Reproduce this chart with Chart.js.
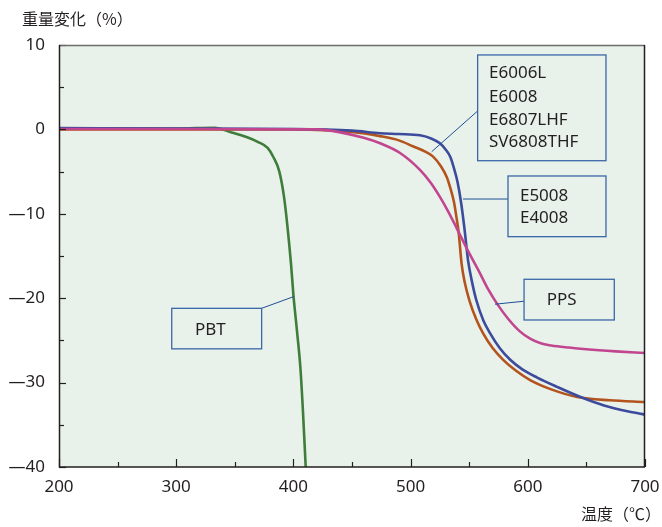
<!DOCTYPE html>
<html><head><meta charset="utf-8">
<script src="https://cdn.jsdelivr.net/npm/chart.js@4/dist/chart.umd.min.js"></script>
<style>html,body{margin:0;padding:0;background:#fff}#wrap{width:662px;height:527px}</style>
</head><body><div id="wrap"><canvas id="c" width="662" height="527"></canvas></div>
<script>
// ---- data ----
const xTicks = [200, 300, 400, 500, 600, 700];
const yTicks = [10, 0, -10, -20, -30, -40];

const blueT = [200, 300, 400, 450, 474, 490, 508, 518, 525, 530, 534, 537, 540, 543, 546, 549, 552, 556, 562, 568, 576, 585, 595, 608, 625, 645, 665, 685, 700];
const blueV = [0.15, 0.1, 0.05, -0.15, -0.45, -0.55, -0.7, -1.1, -1.65, -2.4, -3.3, -4.6, -6.2, -8.6, -11.8, -15.5, -17.8, -20.2, -22.6, -24.2, -25.9, -27.3, -28.4, -29.4, -30.5, -31.7, -32.7, -33.4, -33.8];

const orangeT = [200, 300, 400, 450, 474, 490, 502, 512, 519, 526, 531, 534, 537, 539, 541, 543.5, 546, 550, 556, 562, 570, 579, 590, 602, 620, 642, 670, 700];
const orangeV = [0, 0, 0, -0.3, -0.8, -1.3, -2.0, -2.6, -3.2, -4.4, -5.7, -7.0, -8.6, -10.3, -12.2, -15.9, -18.0, -20.2, -22.5, -24.2, -25.9, -27.3, -28.6, -29.7, -30.8, -31.7, -32.1, -32.3];

const pinkT = [200, 300, 420, 440, 460, 474, 491, 508, 517, 525, 532, 539, 549, 559, 566, 574, 583, 593, 602, 611, 620, 635, 650, 675, 700];
const pinkV = [0.05, 0.05, 0, -0.35, -1.0, -1.65, -2.8, -4.8, -6.3, -8.0, -9.7, -11.6, -14.4, -17.0, -18.9, -20.7, -22.4, -23.9, -24.8, -25.35, -25.6, -25.85, -26.05, -26.3, -26.5];

const greenT = [200, 300, 333, 346, 360, 370, 378, 383, 388, 392, 395, 398, 400, 403, 406, 408, 410.5];
const greenV = [0.1, 0.1, 0.2, -0.3, -0.9, -1.5, -2.2, -3.3, -5.0, -8.0, -11.6, -16, -19.6, -23.8, -28.3, -33, -40];

const labelsBox1 = ['E6006L', 'E6008', 'E6807LHF', 'SV6808THF'];
const labelsBox2 = ['E5008', 'E4008'];
const labelsBox3 = ['PPS'];
const labelsBox4 = ['PBT'];

const yTitle = '重量変化（%）';
const xTitle = '温度（℃）';

// annotation placement (data coordinates)
const notes = [
  {lines: labelsBox1, box: [557.2, 8.82, 666.7, -3.71], tx: 566.9, ty: [6.68, 3.84, 1.11, -1.49], lead: [557.2, 2.18, 518.0, -2.64]},
  {lines: labelsBox2, box: [583.1, -5.52, 666.7, -12.71], tx: 593.3, ty: [-7.89, -10.5], lead: [583.1, -8.25, 544.7, -8.25]},
  {lines: labelsBox3, box: [596.8, -17.76, 673.8, -22.58], tx: 616.1, ty: [-20.21], lead: [596.8, -20.36, 572.0, -20.71]},
  {lines: labelsBox4, box: [296.2, -21.2, 372.9, -26.0], tx: 316.0, ty: [-23.77], lead: [372.9, -21.2, 400.5, -19.8]}
];

const TXT = '#231f20';
const zip = (t, v) => t.map((x, i) => ({x: x, y: v[i]}));

const frame = {
  id: 'frame',
  beforeDraw(chart) {
    const {ctx, chartArea: a} = chart;
    ctx.save();
    ctx.fillStyle = '#e8f2ea';
    ctx.fillRect(a.left, a.top, a.right - a.left, a.bottom - a.top);
    ctx.restore();
  },
  afterDatasetsDraw(chart) {
    const {ctx, chartArea: a, scales} = chart;
    const xs = scales.x, ys = scales.y;
    ctx.save();
    // inward ticks
    ctx.strokeStyle = TXT; ctx.lineWidth = 1.2;
    xs.ticks.forEach(t => {
      const px = Math.round(xs.getPixelForValue(t.value)) + 0.5;
      const len = (t.value % 100 === 0) ? 8 : 5;
      ctx.beginPath(); ctx.moveTo(px, a.bottom); ctx.lineTo(px, a.bottom - len); ctx.stroke();
    });
    ys.ticks.forEach(t => {
      const py = Math.round(ys.getPixelForValue(t.value)) + 0.5;
      const len = (t.value % 10 === 0) ? 7 : 5;
      ctx.beginPath(); ctx.moveTo(a.left, py); ctx.lineTo(a.left + len, py); ctx.stroke();
    });
    // frame
    ctx.lineWidth = 1.5;
    ctx.strokeStyle = '#6d6d6d';
    ctx.beginPath(); ctx.moveTo(a.left, a.top + 0.5); ctx.lineTo(a.right, a.top + 0.5); ctx.stroke();
    ctx.strokeStyle = TXT;
    ctx.beginPath(); ctx.moveTo(a.right - 0.5, a.top); ctx.lineTo(a.right - 0.5, a.bottom); ctx.stroke();
    ctx.beginPath(); ctx.moveTo(a.left + 0.5, a.top); ctx.lineTo(a.left + 0.5, a.bottom); ctx.lineTo(a.right, a.bottom); ctx.stroke();

    // annotations
    notes.forEach(n => {
      const X = v => xs.getPixelForValue(v), Y = v => ys.getPixelForValue(v);
      ctx.strokeStyle = '#1f4f94'; ctx.lineWidth = 1;
      ctx.beginPath(); ctx.moveTo(X(n.lead[0]), Y(n.lead[1])); ctx.lineTo(X(n.lead[2]), Y(n.lead[3])); ctx.stroke();
      const x1 = X(n.box[0]), y1 = Y(n.box[1]), x2 = X(n.box[2]), y2 = Y(n.box[3]);
      ctx.fillStyle = '#e8f2ea';
      ctx.fillRect(x1, y1, x2 - x1, y2 - y1);
      ctx.strokeStyle = '#3a67a8'; ctx.lineWidth = 1.3;
      ctx.strokeRect(x1, y1, x2 - x1, y2 - y1);
      ctx.fillStyle = TXT; ctx.font = '17px "Noto Sans", sans-serif';
      ctx.textAlign = 'left'; ctx.textBaseline = 'middle';
      n.lines.forEach((s, i) => ctx.fillText(s, X(n.tx), Y(n.ty[i])));
    });

    // titles
    ctx.fillStyle = TXT;
    ctx.font = '16px "Noto Sans CJK JP", sans-serif';
    ctx.textBaseline = 'middle';
    ctx.textAlign = 'left';
    ctx.fillText(yTitle, 22, 19);
    ctx.textAlign = 'right';
    ctx.fillText(xTitle, 661, 514);
    ctx.restore();
  }
};

const ds = (label, t, v, color) => ({
  label: label, data: zip(t, v), borderColor: color, borderWidth: 2.6,
  pointRadius: 0, fill: false, cubicInterpolationMode: 'monotone'
});

new Chart(document.getElementById('c'), {
  type: 'line',
  data: {datasets: [
    ds('PPS', pinkT, pinkV, '#c2468f'),
    ds('E6006L', blueT, blueV, '#3d4b9c'),
    ds('E5008', orangeT, orangeV, '#b3541f'),
    ds('PBT', greenT, greenV, '#3f7d3a')
  ]},
  options: {
    responsive: false, animation: false, devicePixelRatio: 1,
    layout: {padding: {top: 45, right: 17, bottom: 0, left: 0}},
    plugins: {legend: {display: false}, tooltip: {enabled: false}},
    scales: {
      x: {
        type: 'linear', min: 200, max: 700,
        grid: {display: false, drawTicks: false},
        border: {display: false},
        afterFit(s) { s.height = 60; s.paddingLeft = 0; s.paddingRight = 0; },
        ticks: {stepSize: 50, autoSkip: false, maxRotation: 0, padding: 10, color: TXT,
          font: {family: '"Noto Sans", sans-serif', size: 17},
          callback: v => xTicks.includes(v) ? String(v) : ''}
      },
      y: {
        type: 'linear', min: -40, max: 10,
        grid: {display: false, drawTicks: false},
        border: {display: false},
        afterFit(s) { s.width = 59; s.paddingTop = 0; s.paddingBottom = 0; },
        ticks: {stepSize: 5, autoSkip: false, padding: 14, color: TXT,
          font: {family: '"Noto Sans", sans-serif', size: 17},
          callback: v => yTicks.includes(v) ? (v < 0 ? '—' + Math.abs(v) : String(v)) : ''}
      }
    }
  },
  plugins: [frame]
});
</script></body></html>
